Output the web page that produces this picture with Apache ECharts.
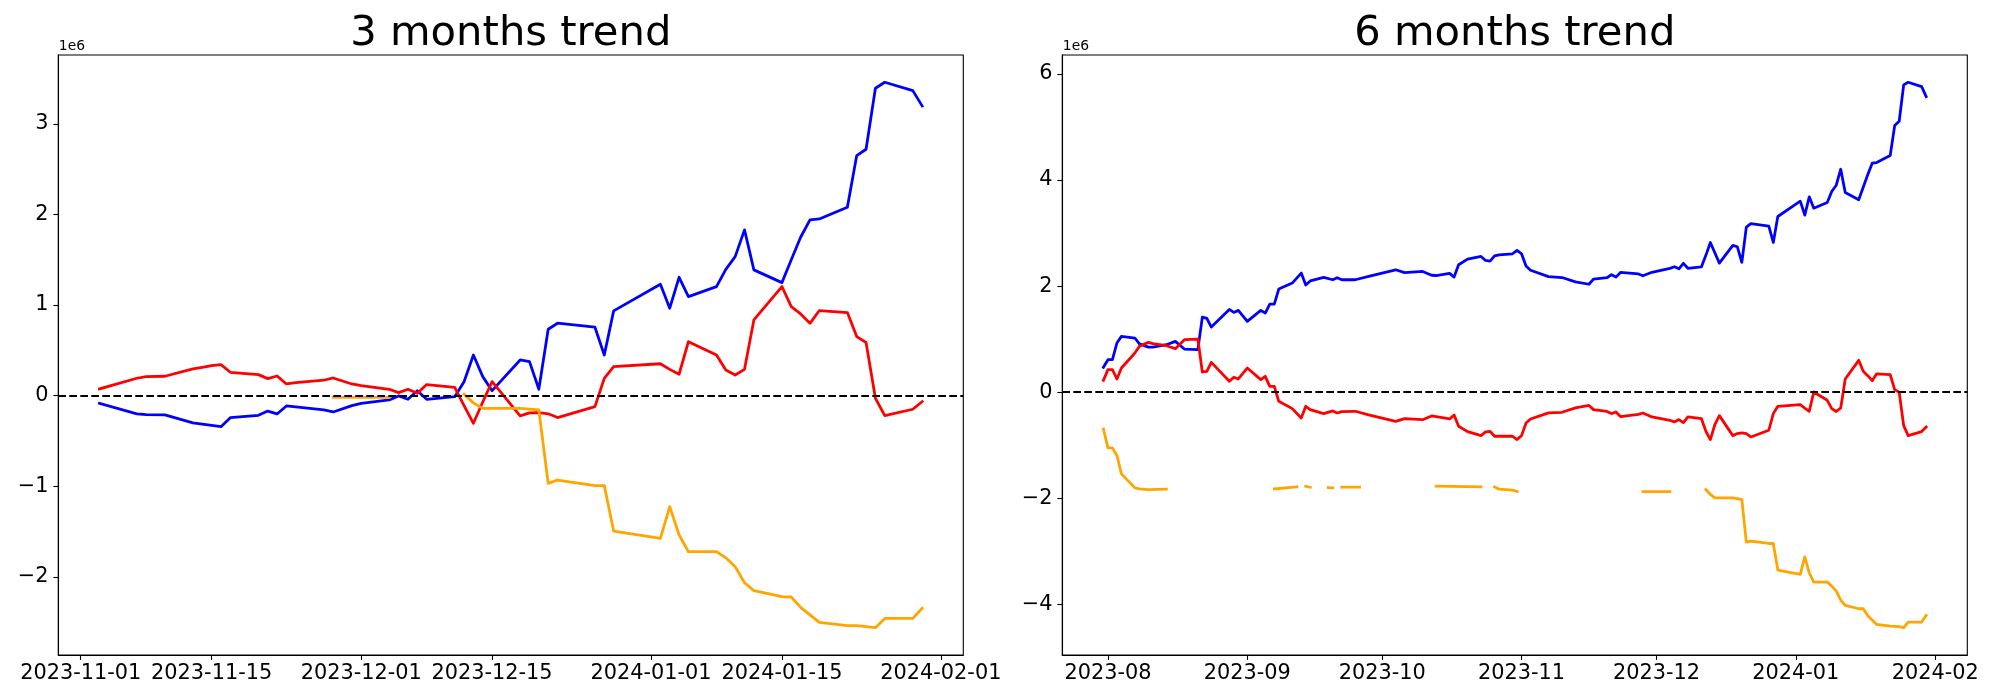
<!DOCTYPE html>
<html><head><meta charset="utf-8">
<script src="https://cdn.jsdelivr.net/npm/echarts@6/dist/echarts.min.js"></script>
<style>html,body{margin:0;padding:0;background:#fff}#c{width:2000px;height:700px}</style>
</head><body><div id="c"></div>
<script>
// ---- tick labels ----
const xTicks3 = ['2023-11-01','2023-11-15','2023-12-01','2023-12-15','2024-01-01','2024-01-15','2024-02-01'];
const xTicks6 = ['2023-08','2023-09','2023-10','2023-11','2023-12','2024-01','2024-02'];
const yTicks3 = [-2,-1,0,1,2,3];
const yTicks6 = [-4,-2,0,2,4,6];
const titles = ['3 months trend','6 months trend'];

// ---- 3 months series (values in units of 1e6) ----
const blue3 = [['2023-11-03',-0.085],['2023-11-07',-0.202],['2023-11-08',-0.21],['2023-11-10',-0.213],['2023-11-13',-0.30],['2023-11-14',-0.313],['2023-11-15',-0.327],['2023-11-16',-0.342],['2023-11-17',-0.243],['2023-11-20',-0.217],['2023-11-21',-0.17],['2023-11-22',-0.202],['2023-11-23',-0.114],['2023-11-24',-0.125],['2023-11-27',-0.158],['2023-11-28',-0.18],['2023-11-30',-0.11],['2023-12-01',-0.085],['2023-12-04',-0.047],['2023-12-05',-0.003],['2023-12-06',-0.04],['2023-12-07',0.055],['2023-12-08',-0.04],['2023-12-11',-0.011],['2023-12-12',0.154],['2023-12-13',0.449],['2023-12-14',0.21],['2023-12-15',0.055],['2023-12-18',0.394],['2023-12-19',0.376],['2023-12-20',0.07],['2023-12-21',0.733],['2023-12-22',0.799],['2023-12-26',0.755],['2023-12-27',0.449],['2023-12-28',0.935],['2024-01-02',1.229],['2024-01-03',0.965],['2024-01-04',1.306],['2024-01-05',1.093],['2024-01-08',1.203],['2024-01-09',1.394],['2024-01-10',1.534],['2024-01-11',1.829],['2024-01-12',1.388],['2024-01-15',1.247],['2024-01-16',1.50],['2024-01-17',1.748],['2024-01-18',1.939],['2024-01-19',1.95],['2024-01-22',2.079],['2024-01-23',2.649],['2024-01-24',2.719],['2024-01-25',3.392],['2024-01-26',3.458],['2024-01-29',3.366],['2024-01-30',3.197]];
const red3 = [['2023-11-03',0.074],['2023-11-07',0.192],['2023-11-08',0.21],['2023-11-10',0.214],['2023-11-13',0.295],['2023-11-14',0.313],['2023-11-15',0.332],['2023-11-16',0.343],['2023-11-17',0.258],['2023-11-20',0.232],['2023-11-21',0.188],['2023-11-22',0.217],['2023-11-23',0.129],['2023-11-24',0.144],['2023-11-27',0.17],['2023-11-28',0.195],['2023-11-30',0.129],['2023-12-01',0.11],['2023-12-04',0.07],['2023-12-05',0.033],['2023-12-06',0.07],['2023-12-07',0.026],['2023-12-08',0.122],['2023-12-11',0.092],['2023-12-12',-0.11],['2023-12-13',-0.305],['2023-12-14',-0.07],['2023-12-15',0.155],['2023-12-18',-0.224],['2023-12-19',-0.19],['2023-12-20',-0.187],['2023-12-21',-0.2],['2023-12-22',-0.242],['2023-12-26',-0.121],['2023-12-27',0.191],['2023-12-28',0.32],['2024-01-02',0.352],['2024-01-03',0.29],['2024-01-04',0.236],['2024-01-05',0.596],['2024-01-08',0.449],['2024-01-09',0.284],['2024-01-10',0.228],['2024-01-11',0.29],['2024-01-12',0.835],['2024-01-15',1.204],['2024-01-16',0.983],['2024-01-17',0.902],['2024-01-18',0.798],['2024-01-19',0.939],['2024-01-22',0.917],['2024-01-23',0.652],['2024-01-24',0.586],['2024-01-25',-0.029],['2024-01-26',-0.221],['2024-01-29',-0.15],['2024-01-30',-0.066]];
const orange3 = [['2023-11-28',-0.018],['2023-11-29',-0.018],['2023-11-30',-0.018],['2023-12-01',-0.018],['2023-12-04',-0.018],['2023-12-05',null],['2023-12-12',0.015],['2023-12-13',-0.08],['2023-12-14',-0.14],['2023-12-15',-0.14],['2023-12-18',-0.14],['2023-12-19',-0.15],['2023-12-20',-0.158],['2023-12-21',-0.968],['2023-12-22',-0.931],['2023-12-26',-0.993],['2023-12-27',-0.993],['2023-12-28',-1.494],['2024-01-02',-1.575],['2024-01-03',-1.225],['2024-01-04',-1.538],['2024-01-05',-1.722],['2024-01-08',-1.722],['2024-01-09',-1.79],['2024-01-10',-1.887],['2024-01-11',-2.064],['2024-01-12',-2.152],['2024-01-15',-2.218],['2024-01-16',-2.222],['2024-01-17',-2.336],['2024-01-18',-2.42],['2024-01-19',-2.502],['2024-01-22',-2.538],['2024-01-23',-2.538],['2024-01-24',-2.55],['2024-01-25',-2.561],['2024-01-26',-2.458],['2024-01-29',-2.458],['2024-01-30',-2.347]];

// ---- 6 months series (values in units of 1e6) ----
const blue6 = [['2023-07-31',0.47],['2023-08-01',0.612],['2023-08-02',0.612],['2023-08-03',0.927],['2023-08-04',1.052],['2023-08-07',1.021],['2023-08-08',0.91],['2023-08-10',0.85],['2023-08-11',0.85],['2023-08-14',0.895],['2023-08-16',0.958],['2023-08-18',0.813],['2023-08-21',0.801],['2023-08-22',1.416],['2023-08-23',1.39],['2023-08-24',1.228],['2023-08-28',1.56],['2023-08-29',1.504],['2023-08-30',1.542],['2023-09-01',1.335],['2023-09-04',1.542],['2023-09-05',1.492],['2023-09-06',1.662],['2023-09-07',1.662],['2023-09-08',1.944],['2023-09-11',2.057],['2023-09-13',2.246],['2023-09-14',2.02],['2023-09-15',2.097],['2023-09-18',2.164],['2023-09-20',2.12],['2023-09-21',2.158],['2023-09-22',2.12],['2023-09-25',2.12],['2023-09-28',2.183],['2023-10-04',2.308],['2023-10-06',2.255],['2023-10-10',2.277],['2023-10-12',2.205],['2023-10-13',2.2],['2023-10-16',2.24],['2023-10-17',2.17],['2023-10-18',2.403],['2023-10-20',2.509],['2023-10-23',2.56],['2023-10-24',2.484],['2023-10-25',2.47],['2023-10-26',2.57],['2023-10-27',2.59],['2023-10-30',2.61],['2023-10-31',2.675],['2023-11-01',2.61],['2023-11-02',2.38],['2023-11-03',2.298],['2023-11-07',2.18],['2023-11-10',2.162],['2023-11-13',2.08],['2023-11-16',2.035],['2023-11-17',2.133],['2023-11-20',2.158],['2023-11-21',2.215],['2023-11-22',2.17],['2023-11-23',2.258],['2023-11-27',2.23],['2023-11-28',2.195],['2023-11-30',2.26],['2023-12-04',2.335],['2023-12-05',2.366],['2023-12-06',2.327],['2023-12-07',2.43],['2023-12-08',2.336],['2023-12-11',2.362],['2023-12-12',2.58],['2023-12-13',2.823],['2023-12-15',2.434],['2023-12-18',2.767],['2023-12-19',2.742],['2023-12-20',2.447],['2023-12-21',3.113],['2023-12-22',3.18],['2023-12-26',3.13],['2023-12-27',2.823],['2023-12-28',3.313],['2024-01-02',3.602],['2024-01-03',3.338],['2024-01-04',3.684],['2024-01-05',3.47],['2024-01-08',3.577],['2024-01-09',3.784],['2024-01-10',3.903],['2024-01-11',4.205],['2024-01-12',3.766],['2024-01-15',3.628],['2024-01-17',4.1],['2024-01-18',4.318],['2024-01-19',4.331],['2024-01-22',4.463],['2024-01-23',5.028],['2024-01-24',5.11],['2024-01-25',5.795],['2024-01-26',5.845],['2024-01-29',5.763],['2024-01-30',5.575]];
const red6 = [['2023-07-31',0.223],['2023-08-01',0.424],['2023-08-02',0.424],['2023-08-03',0.248],['2023-08-04',0.455],['2023-08-07',0.738],['2023-08-08',0.864],['2023-08-10',0.939],['2023-08-11',0.914],['2023-08-14',0.876],['2023-08-16',0.82],['2023-08-18',0.99],['2023-08-21',1.002],['2023-08-22',0.38],['2023-08-23',0.393],['2023-08-24',0.562],['2023-08-28',0.204],['2023-08-29',0.28],['2023-08-30',0.248],['2023-09-01',0.455],['2023-09-04',0.236],['2023-09-05',0.298],['2023-09-06',0.11],['2023-09-07',0.11],['2023-09-08',-0.173],['2023-09-11',-0.311],['2023-09-13',-0.487],['2023-09-14',-0.267],['2023-09-15',-0.33],['2023-09-18',-0.405],['2023-09-20',-0.355],['2023-09-21',-0.393],['2023-09-22',-0.367],['2023-09-25',-0.361],['2023-09-28',-0.43],['2023-10-04',-0.55],['2023-10-06',-0.5],['2023-10-10',-0.52],['2023-10-12',-0.45],['2023-10-16',-0.506],['2023-10-17',-0.43],['2023-10-18',-0.644],['2023-10-20',-0.745],['2023-10-23',-0.82],['2023-10-24',-0.75],['2023-10-25',-0.74],['2023-10-26',-0.832],['2023-10-30',-0.832],['2023-10-31',-0.895],['2023-11-01',-0.82],['2023-11-02',-0.581],['2023-11-03',-0.506],['2023-11-07',-0.39],['2023-11-10',-0.38],['2023-11-13',-0.298],['2023-11-16',-0.25],['2023-11-17',-0.33],['2023-11-20',-0.365],['2023-11-21',-0.405],['2023-11-22',-0.374],['2023-11-23',-0.46],['2023-11-27',-0.42],['2023-11-28',-0.393],['2023-11-30',-0.468],['2023-12-04',-0.531],['2023-12-05',-0.562],['2023-12-06',-0.518],['2023-12-07',-0.575],['2023-12-08',-0.468],['2023-12-11',-0.499],['2023-12-12',-0.738],['2023-12-13',-0.895],['2023-12-14',-0.612],['2023-12-15',-0.443],['2023-12-18',-0.82],['2023-12-19',-0.782],['2023-12-20',-0.769],['2023-12-21',-0.782],['2023-12-22',-0.845],['2023-12-26',-0.719],['2023-12-27',-0.405],['2023-12-28',-0.267],['2024-01-02',-0.236],['2024-01-03',-0.3],['2024-01-04',-0.361],['2024-01-05',0.003],['2024-01-08',-0.154],['2024-01-09',-0.311],['2024-01-10',-0.365],['2024-01-11',-0.298],['2024-01-12',0.248],['2024-01-15',0.6],['2024-01-16',0.393],['2024-01-17',0.311],['2024-01-18',0.217],['2024-01-19',0.345],['2024-01-22',0.33],['2024-01-23',0.047],['2024-01-24',-0.003],['2024-01-25',-0.631],['2024-01-26',-0.82],['2024-01-29',-0.744],['2024-01-30',-0.656]];
const orange6 = [['2023-07-31',-0.694],['2023-08-01',-1.052],['2023-08-02',-1.052],['2023-08-03',-1.196],['2023-08-04',-1.542],['2023-08-07',-1.806],['2023-08-08',-1.825],['2023-08-10',-1.837],['2023-08-14',-1.831],['2023-08-15',null],['2023-09-07',-1.825],['2023-09-12',-1.787],['2023-09-13',null],['2023-09-14',-1.775],['2023-09-15',-1.794],['2023-09-18',null],['2023-09-19',-1.80],['2023-09-20',-1.806],['2023-09-21',null],['2023-09-22',-1.79],['2023-09-26',-1.79],['2023-09-27',null],['2023-10-13',-1.775],['2023-10-23',-1.787],['2023-10-24',null],['2023-10-26',-1.787],['2023-10-27',-1.83],['2023-10-30',-1.85],['2023-10-31',-1.874],['2023-11-01',null],['2023-11-28',-1.875],['2023-12-04',-1.875],['2023-12-05',null],['2023-12-12',-1.837],['2023-12-13',-1.93],['2023-12-14',-1.994],['2023-12-15',-1.994],['2023-12-18',-1.994],['2023-12-19',-2.007],['2023-12-20',-2.026],['2023-12-21',-2.83],['2023-12-22',-2.81],['2023-12-26',-2.855],['2023-12-27',-2.855],['2023-12-28',-3.357],['2024-01-02',-3.439],['2024-01-03',-3.106],['2024-01-04',-3.407],['2024-01-05',-3.583],['2024-01-08',-3.583],['2024-01-09',-3.659],['2024-01-10',-3.753],['2024-01-11',-3.923],['2024-01-12',-4.023],['2024-01-15',-4.086],['2024-01-16',-4.086],['2024-01-17',-4.212],['2024-01-18',-4.3],['2024-01-19',-4.381],['2024-01-22',-4.413],['2024-01-24',-4.425],['2024-01-25',-4.444],['2024-01-26',-4.337],['2024-01-29',-4.337],['2024-01-30',-4.212]];

// ---- helpers ----
function ts(s){ const p = s.split('-').map(Number); return Date.UTC(p[0], p[1]-1, p[2] || 1); }
function toData(arr){ return arr.map(d => [ts(d[0]), d[1] === null ? '-' : d[1]]); }
function xExtent(list){
  let lo = Infinity, hi = -Infinity;
  list.forEach(a => a.forEach(d => { const t = ts(d[0]); lo = Math.min(lo, t); hi = Math.max(hi, t); }));
  const m = (hi - lo) * 0.05; return [lo - m, hi + m];
}
function yExtent(list){
  let lo = Infinity, hi = -Infinity;
  list.forEach(a => a.forEach(d => { if (d[1] !== null){ lo = Math.min(lo, d[1]); hi = Math.max(hi, d[1]); } }));
  const m = (hi - lo) * 0.05; return [lo - m, hi + m];
}
const FONT = 'DejaVu Sans';
const TICK_FS = 20.83;
const grids = [
  {left: 58.3, top: 55, width: 905, height: 600},
  {left: 1062.3, top: 55, width: 905, height: 600}
];
const x3 = xExtent([blue3, red3, orange3]), x6 = xExtent([blue6, red6, orange6]);
const y3 = yExtent([blue3, red3, orange3]), y6 = yExtent([blue6, red6, orange6]);

function xAxis(idx, ext, labels){
  const vals = labels.map(ts);
  return {
    type: 'value', gridIndex: idx, min: ext[0], max: ext[1], position: 'bottom', scale: true,
    axisLine: {show: true, onZero: false, lineStyle: {color: '#000', width: 1.1}},
    axisTick: {show: true, inside: false, length: 4.9, lineStyle: {color: '#000', width: 1.1}, customValues: vals},
    axisLabel: {show: true, customValues: vals, margin: 8.5, color: '#000', fontSize: TICK_FS, fontFamily: FONT,
      formatter: v => { const i = vals.findIndex(t => Math.abs(t - v) < 1000); return i >= 0 ? labels[i] : ''; }},
    splitLine: {show: false}
  };
}
function yAxis(idx, ext, ticks){
  return {
    type: 'value', gridIndex: idx, min: ext[0], max: ext[1], scale: true,
    axisLine: {show: true, onZero: false, lineStyle: {color: '#000', width: 1.1}},
    axisTick: {show: true, inside: false, length: 4.9, lineStyle: {color: '#000', width: 1.1}, customValues: ticks},
    axisLabel: {show: true, customValues: ticks, margin: 9.8, color: '#000', fontSize: TICK_FS, fontFamily: FONT,
      formatter: v => String(Math.round(v)).replace('-', '\u2212')},
    splitLine: {show: false}
  };
}
function line(data, color, idx, z){
  return {type: 'line', xAxisIndex: idx, yAxisIndex: idx, data: toData(data), showSymbol: false, symbol: 'none',
    connectNulls: false, animation: false, z: z, silent: true,
    lineStyle: {color: color, width: 2.78, cap: 'square', join: 'round'}, itemStyle: {color: color}};
}
function zeroLine(idx){
  return {type: 'line', xAxisIndex: idx, yAxisIndex: idx, data: [], z: 10, animation: false, silent: true,
    markLine: {silent: true, animation: false, symbol: ['none', 'none'], label: {show: false},
      lineStyle: {color: '#000', width: 2.08, type: [7.7, 3.3]}, data: [{yAxis: 0}]}};
}

const chart = echarts.init(document.getElementById('c'), null, {renderer: 'canvas', width: 2000, height: 700});
chart.setOption({
  backgroundColor: '#fff',
  animation: false,
  title: titles.map((t, i) => ({
    text: t, left: grids[i].left + grids[i].width / 2, textAlign: 'center', top: 13.5, padding: 0,
    textStyle: {fontSize: 41.7, lineHeight: 41.7, fontWeight: 'normal', fontFamily: FONT, color: '#000'}
  })),
  grid: grids.map(g => Object.assign({show: true, borderColor: '#000', borderWidth: 1.1, containLabel: false}, g)),
  xAxis: [xAxis(0, x3, xTicks3), xAxis(1, x6, xTicks6)],
  yAxis: [yAxis(0, y3, yTicks3), yAxis(1, y6, yTicks6)],
  graphic: grids.map(g => ({
    type: 'text', left: g.left + 0.5, top: 39.5, silent: true,
    style: {text: '1e6', fontSize: 13.9, fontFamily: FONT, fill: '#000'}
  })),
  series: [
    line(blue3, '#0000ff', 0, 2), line(red3, '#ff0000', 0, 3), line(orange3, '#ffa500', 0, 4), zeroLine(0),
    line(blue6, '#0000ff', 1, 2), line(red6, '#ff0000', 1, 3), line(orange6, '#ffa500', 1, 4), zeroLine(1)
  ]
});
</script>
</body></html>
